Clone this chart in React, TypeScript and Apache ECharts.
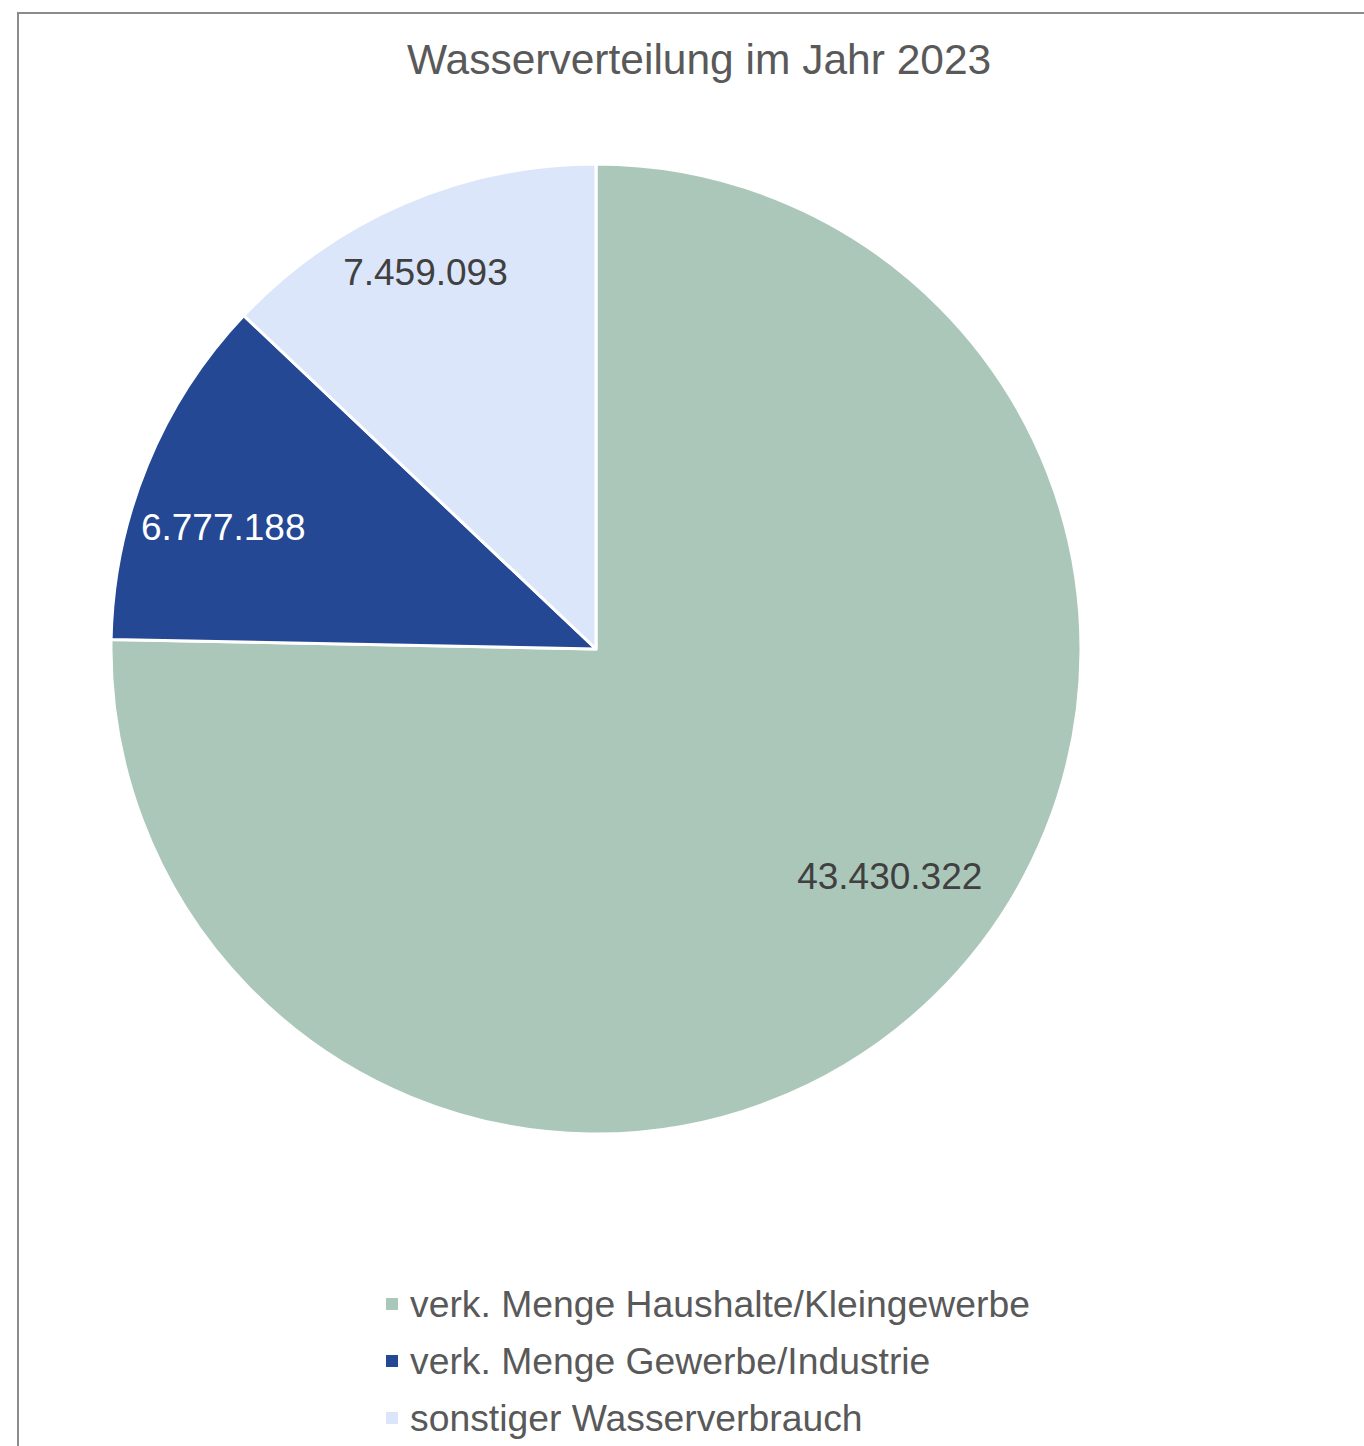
import React, { useEffect, useRef } from "react";
import * as echarts from "echarts";

const TITLE = "Wasserverteilung im Jahr 2023";
const CATEGORIES = [
  "verk. Menge Haushalte/Kleingewerbe",
  "verk. Menge Gewerbe/Industrie",
  "sonstiger Wasserverbrauch",
];
const VALUES = [43430322, 6777188, 7459093];
const COLORS = ["#ABC7B9", "#244893", "#DCE6FB"];
const LABEL_COLORS = ["#404040", "#FFFFFF", "#404040"];
// small label nudges (px) to mimic the original placement
const LABEL_NUDGE = [
  [20, -52],
  [-11, 27],
  [-16, -17],
];

function fmtDE(v: number): string {
  const s = Math.round(v).toString();
  return s.replace(/\B(?=(\d{3})+(?!\d))/g, ".");
}

const FONT = "'Liberation Sans', Arial, sans-serif";

export default function App() {
  const ref = useRef<HTMLDivElement>(null);
  useEffect(() => {
    if (!ref.current) return;
    const chart = echarts.init(ref.current, undefined, { renderer: "svg" });
    const R = 485;
    const data = CATEGORIES.map((name, i) => ({
      name,
      value: VALUES[i],
      itemStyle: { color: COLORS[i] },
    }));
    const labelData = CATEGORIES.map((name, i) => ({
      name,
      value: VALUES[i],
      label: { color: LABEL_COLORS[i] },
    }));
    chart.setOption({
      animation: false,
      backgroundColor: "#FFFFFF",
      title: {
        text: TITLE,
        left: 407,
        top: 38,
        padding: 0,
        textStyle: {
          fontFamily: FONT,
          fontSize: 42.5,
          fontWeight: "normal",
          color: "#595959",
        },
      },
      legend: {
        orient: "vertical",
        left: 384,
        top: 1284,
        height: 200,
        padding: 0,
        itemWidth: 14,
        itemHeight: 14,
        itemGap: 17,
        icon: "rect",
        data: CATEGORIES,
        textStyle: {
          fontFamily: FONT,
          fontSize: 37.3,
          color: "#595959",
          lineHeight: 40,
          padding: [0, 0, 0, 6],
        },
      },
      graphic: [
        {
          type: "rect",
          silent: true,
          shape: { x: 18, y: 13, width: 3000, height: 3000 },
          style: { fill: "none", stroke: "#8C8C8C", lineWidth: 2 },
        },
      ],
      series: [
        {
          type: "pie",
          center: [596, 649],
          radius: [0, R],
          startAngle: 90,
          clockwise: true,
          avoidLabelOverlap: false,
          silent: true,
          label: { show: false },
          labelLine: { show: false },
          itemStyle: { borderColor: "#FFFFFF", borderWidth: 3 },
          data,
        },
        {
          type: "pie",
          center: [596, 649],
          radius: [R * 0.6, R],
          startAngle: 90,
          clockwise: true,
          avoidLabelOverlap: false,
          silent: true,
          legendHoverLink: false,
          itemStyle: { color: "rgba(0,0,0,0)", borderWidth: 0 },
          label: {
            show: true,
            position: "inside",
            fontFamily: FONT,
            fontSize: 37,
            formatter: (p: any) => fmtDE(p.value),
          },
          labelLine: { show: false },
          labelLayout: (p: any) => ({
            dx: LABEL_NUDGE[p.dataIndex][0],
            dy: LABEL_NUDGE[p.dataIndex][1],
          }),
          data: labelData,
        },
      ],
    });
    return () => chart.dispose();
  }, []);
  return (
    <div
      ref={ref}
      style={{ position: "absolute", left: 0, top: 0, width: 1364, height: 1446 }}
    />
  );
}
